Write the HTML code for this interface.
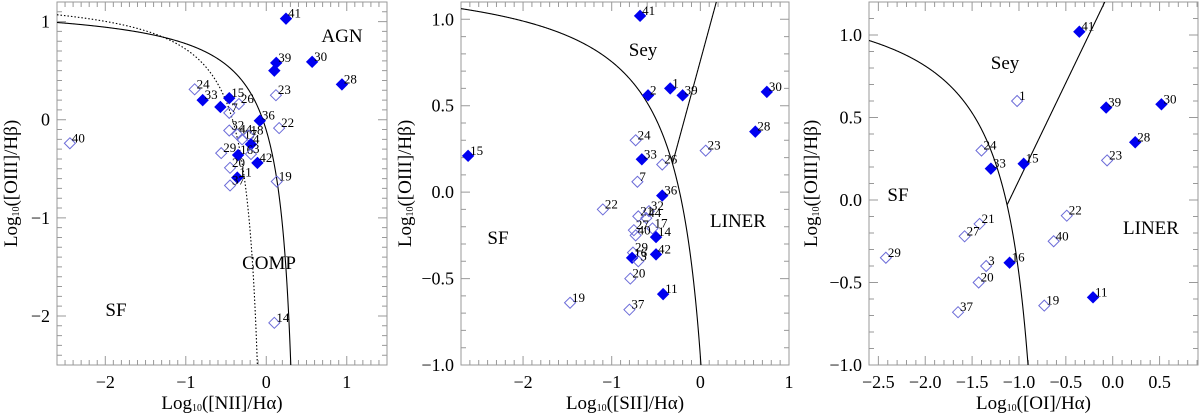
<!DOCTYPE html>
<html><head><meta charset="utf-8"><style>
html,body{margin:0;padding:0;background:#fff;}
svg{display:block;font-family:"Liberation Serif",serif;}
</style></head><body>
<svg id="c" width="1200" height="414" viewBox="0 0 1200 414" xmlns="http://www.w3.org/2000/svg"></svg>
<script>
// Panel 1: [NII]/Ha
const nii_labels=["41","39","","30","28","23","24","33","15","26","","7","36","22","32","44","17","18","4","29","16","3","42","20","11","37","19","40","14"];
const nii_x=[0.245,0.124,0.10,0.57,0.94,0.12,-0.89,-0.79,-0.46,-0.34,-0.57,-0.46,-0.08,0.16,-0.46,-0.36,-0.30,-0.22,-0.19,-0.56,-0.35,-0.19,-0.11,-0.45,-0.36,-0.45,0.13,-2.44,0.10];
const nii_y=[1.03,0.58,0.50,0.59,0.36,0.25,0.31,0.20,0.22,0.16,0.13,0.07,-0.01,-0.085,-0.11,-0.15,-0.20,-0.16,-0.25,-0.34,-0.36,-0.35,-0.44,-0.49,-0.59,-0.67,-0.63,-0.24,-2.07];
const nii_filled=[1,1,1,1,1,0,0,1,1,0,1,0,1,0,0,0,0,0,1,0,1,0,1,0,1,0,0,0,0];
// Panel 2: [SII]/Ha
const sii_labels=["41","2","1","39","30","28","23","24","15","33","26","7","36","22","32","21","44","17","27","40","14","29","42","16","3","20","11","19","37"];
const sii_x=[-0.68,-0.59,-0.34,-0.20,0.75,0.62,0.06,-0.73,-2.62,-0.66,-0.43,-0.71,-0.43,-1.10,-0.58,-0.70,-0.61,-0.54,-0.75,-0.73,-0.50,-0.76,-0.50,-0.77,-0.70,-0.79,-0.42,-1.47,-0.80];
const sii_y=[1.02,0.56,0.60,0.56,0.58,0.35,0.24,0.30,0.21,0.19,0.16,0.06,-0.02,-0.10,-0.11,-0.14,-0.15,-0.21,-0.22,-0.25,-0.26,-0.35,-0.36,-0.38,-0.40,-0.50,-0.59,-0.64,-0.68];
const sii_filled=[1,1,1,1,1,1,0,0,1,1,0,0,1,0,0,0,0,0,0,0,1,0,1,1,0,0,1,0,0];
// Panel 3: [OI]/Ha
const oi_labels=["41","1","39","30","28","23","24","33","15","22","21","27","40","29","3","16","20","11","19","37"];
const oi_x=[-0.356,-1.02,-0.07,0.52,0.24,-0.06,-1.40,-1.30,-0.95,-0.49,-1.42,-1.58,-0.63,-2.42,-1.35,-1.10,-1.43,-0.21,-0.73,-1.65];
const oi_y=[1.02,0.60,0.56,0.58,0.35,0.24,0.30,0.19,0.22,-0.095,-0.145,-0.22,-0.25,-0.35,-0.40,-0.38,-0.50,-0.59,-0.64,-0.68];
const oi_filled=[1,0,1,1,1,0,0,1,1,0,0,0,0,0,0,1,0,1,0,0];
// tick labels
const p1_xticks=[-2,-1,0,1], p1_yticks=[1,0,-1,-2];
const p2_xticks=[-2,-1,0,1], p2_yticks=["1.0","0.5","0.0","-0.5","-1.0"];
const p3_xticks=["-2.5","-2.0","-1.5","-1.0","-0.5","0.0","0.5"], p3_yticks=["1.0","0.5","0.0","-0.5","-1.0"];

const NS="http://www.w3.org/2000/svg";
const svg=document.getElementById('c');
function mk(tag,attrs,parent){const e=document.createElementNS(NS,tag);for(const k in attrs)e.setAttribute(k,attrs[k]);(parent||svg).appendChild(e);return e;}
function fmt(v){return String(v).replace('-','\u2212');}

function panel(o){
  const g=mk('g',{});
  
  
  const sx=v=>o.L+(v-o.x0)/(o.x1-o.x0)*(o.R-o.L);
  const sy=v=>o.B-(v-o.y0)/(o.y1-o.y0)*(o.B-o.T);
  const fr=mk('rect',{x:o.L,y:o.T,width:o.R-o.L,height:o.B-o.T,fill:'none',stroke:'#999','stroke-width':1},g);
  
  
  let p='';
  for(let i=Math.ceil(o.x0*10-1e-6);i<=Math.floor(o.x1*10+1e-6);i++){
    const v=i/10, X=sx(v); const maj=Math.abs(v/o.xmaj-Math.round(v/o.xmaj))<1e-6; const l=maj?9:5;
    p+=`M${X},${o.B}v${-l}M${X},${o.T}v${l}`;
  }
  for(let i=Math.ceil(o.y0*10-1e-6);i<=Math.floor(o.y1*10+1e-6);i++){
    const v=i/10, Y=sy(v); const maj=Math.abs(v/o.ymaj-Math.round(v/o.ymaj))<1e-6; const l=maj?9:5;
    p+=`M${o.L},${Y}h${l}M${o.R},${Y}h${-l}`;
  }
  const tk=mk('path',{d:p,stroke:'#999','stroke-width':1,fill:'none'},g);
  
  
  o.xt.forEach(t=>{const e=mk('text',{x:sx(parseFloat(t)),y:o.B+23,'font-size':18,'text-anchor':'middle'},g);e.textContent=fmt(t);
    
    });
  o.yt.forEach(t=>{const e=mk('text',{x:o.L-7,y:sy(parseFloat(t))+6,'font-size':18,'text-anchor':'end'},g);e.textContent=fmt(t);
    
    });
  const xt=mk('text',{x:(o.L+o.R)/2,y:409,'font-size':19,'text-anchor':'middle'},g);
  xt.innerHTML=`Log<tspan font-size="10" dy="2">10</tspan><tspan dy="-2">(${o.xlab})</tspan>`;
  
  
  const yt=mk('text',{x:0,y:0,'font-size':19,'text-anchor':'middle',transform:`translate(${o.ytx},${(o.T+o.B)/2}) rotate(-90)`},g);
  yt.innerHTML=`Log<tspan font-size="10" dy="2">10</tspan><tspan dy="-2">([OIII]/Hβ)</tspan>`;
  
  
  const clip='clip'+o.L;
  const cp=mk('clipPath',{id:clip},g);mk('rect',{x:o.L,y:o.T,width:o.R-o.L,height:o.B-o.T},cp);
  o.curves.forEach(c=>{
    let d='';let first=true;
    for(let i=0;i<=600;i++){const x=c.a+(c.b-c.a)*i/600;const y=c.f(x);if(!isFinite(y))continue;
      const Y=Math.max(o.T-50,Math.min(o.B+50,sy(y)));d+=(first?'M':'L')+sx(x).toFixed(2)+','+Y.toFixed(2);first=false;}
    const e=mk('path',{d:d,fill:'none',stroke:'#000','stroke-width':1.1,'stroke-dasharray':c.dash||'none','clip-path':`url(#${clip})`},g);
    
    
  });
  o.px.forEach((xv,i)=>{
    const X=sx(xv),Y=sy(o.py[i]);const f=o.pf[i];const s=5.5;
    const d=mk('path',{d:`M${X},${Y-s}L${X+s},${Y}L${X},${Y+s}L${X-s},${Y}Z`,fill:f?'#0000f0':'none',stroke:f?'#0000f0':'#6c6cd8','stroke-width':1},g);
    
    
    if(o.pl[i]){const t=mk('text',{x:X+2,y:Y-1,'font-size':13},g);t.textContent=o.pl[i];
      
      }
  });
  o.regions.forEach(r=>{const t=mk('text',{x:r[1],y:r[2],'font-size':19,'text-anchor':'middle'},g);t.textContent=r[0];
    
    });
}

panel({name:'nii-panel',L:57,R:387,T:2,B:365,x0:-2.6,x1:1.5,y0:-2.5,y1:1.2,xmaj:1,ymaj:1,xt:p1_xticks,yt:p1_yticks,xlab:'[NII]/Hα',ytx:17,
  curves:[{name:'kewley-line',a:-2.6,b:0.46,f:x=>0.61/(x-0.47)+1.19},{name:'kauffmann-line',a:-2.6,b:0.04,f:x=>0.61/(x-0.05)+1.3,dash:'1.5,2'}],
  px:nii_x,py:nii_y,pf:nii_filled,pl:nii_labels,regions:[['AGN',342,42],['COMP',269,269],['SF',116,316]]});
panel({name:'sii-panel',L:461,R:789,T:2,B:365,x0:-2.7,x1:1.0,y0:-1.0,y1:1.1,xmaj:1,ymaj:0.5,xt:p2_xticks,yt:p2_yticks,xlab:'[SII]/Hα',ytx:411,
  curves:[{name:'kewley-line',a:-2.7,b:0.31,f:x=>0.72/(x-0.32)+1.30},{name:'seyfert-liner-line',a:-0.31,b:0.4,f:x=>1.89*x+0.76}],
  px:sii_x,py:sii_y,pf:sii_filled,pl:sii_labels,regions:[['Sey',643,56],['SF',498,244],['LINER',738,227]]});
panel({name:'oi-panel',L:869,R:1198,T:2,B:365,x0:-2.6,x1:0.91,y0:-1.0,y1:1.2,xmaj:0.5,ymaj:0.5,xt:p3_xticks,yt:p3_yticks,xlab:'[OI]/Hα',ytx:817,
  curves:[{name:'kewley-line',a:-2.6,b:-0.6,f:x=>0.73/(x+0.59)+1.33},{name:'seyfert-liner-line',a:-1.125,b:0.0,f:x=>1.18*x+1.30}],
  px:oi_x,py:oi_y,pf:oi_filled,pl:oi_labels,regions:[['Sey',1005,69],['SF',898,201],['LINER',1151,234]]});
</script>
</body></html>
